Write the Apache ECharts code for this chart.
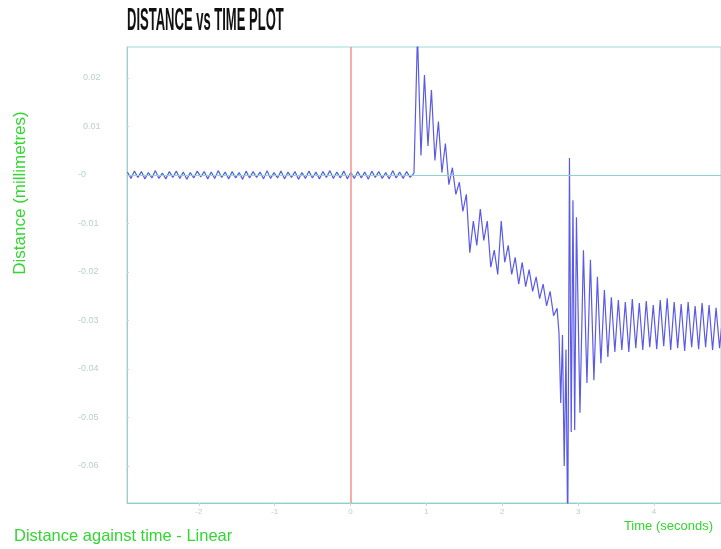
<!DOCTYPE html>
<html>
<head>
<meta charset="utf-8">
<script src="https://cdn.jsdelivr.net/npm/echarts@6/dist/echarts.min.js"></script>
<style>
html,body{margin:0;padding:0;background:#fff;}
#chart{width:721px;height:549px;}
</style>
</head>
<body>
<div id="chart"></div>
<script>
// ---- tick labels ----
const xTickValues = [-2, -1, 0, 1, 2, 3, 4];
const yTickValues = [0.02, 0.01, 0, -0.01, -0.02, -0.03, -0.04, -0.05, -0.06];
const yTickLabels = ['  0.02', '  0.01', '-0', '-0.01', '-0.02', '-0.03', '-0.04', '-0.05', '-0.06'];

// ---- distance samples (mm), each segment: start time (s), sample step (s), values ----
const flatStart = -2.941, flatStep = 0.046;
const flatValues = [
  0.0006,-0.0007,0.0008,-0.0005,0.0007,-0.0008,0.0005,-0.0006,0.0009,-0.0007,
  0.0004,-0.0008,0.0007,-0.0005,0.0008,-0.0007,0.0006,-0.0009,0.0005,-0.0006,
  0.0008,-0.0004,0.0007,-0.0008,0.0006,-0.0007,0.0009,-0.0005,0.0006,-0.0008,
  0.0007,-0.0006,0.0005,-0.0009,0.0008,-0.0006,0.0007,-0.0005,0.0006,-0.0008,
  0.0009,-0.0007,0.0005,-0.0006,0.0008,-0.0008,0.0006,-0.0005,0.0007,-0.0009,
  0.0005,-0.0007,0.0008,-0.0006,0.0006,-0.0008,0.0007,-0.0005,0.0009,-0.0007,
  0.0006,-0.0006,0.0008,-0.0008,0.0005,-0.0007,0.0007,-0.0006,0.0006,-0.0009,
  0.0008,-0.0005,0.0007,-0.0007,0.0005,-0.0008,0.0009,-0.0006,0.0006,-0.0007,
  0.0007,-0.0005
];

const decayStart = 0.8355, decayStep = 0.046;
const decayValues = [
  0.0004, 0.029, 0.004, 0.0206, 0.006, 0.0175, 0.003, 0.011, 0.0005, 0.0065,
  -0.002, 0.0015, -0.004, -0.0015, -0.0075, -0.004, -0.016, -0.0095, -0.0145, -0.007,
  -0.0135, -0.0095, -0.019, -0.0155, -0.0205, -0.0095, -0.018, -0.0145, -0.0205, -0.017,
  -0.0225, -0.018, -0.023, -0.0195, -0.024, -0.021, -0.0255, -0.0225, -0.027, -0.024,
  -0.029, -0.0275
];

const dipStart = 2.7467, dipStep = 0.023;
const dipValues = [
  -0.0326, -0.047, -0.033, -0.060, -0.036, -0.075, 0.0035, -0.053, -0.0052, -0.0526,
  -0.0087
];

const ringStart = 3.023, ringStep = 0.046;
const ringValues = [
  -0.049, -0.0155, -0.0429, -0.0175, -0.0423, -0.021, -0.0388, -0.0237, -0.0375, -0.0252,
  -0.0365, -0.0258, -0.0361, -0.0262, -0.0365, -0.0256, -0.0357, -0.0264, -0.0361, -0.026,
  -0.0355, -0.0268, -0.0359, -0.0258, -0.0353, -0.0254, -0.0361, -0.0262, -0.0357, -0.0266,
  -0.0363, -0.0262, -0.0355, -0.027, -0.0359, -0.0264, -0.0355, -0.0268, -0.0361, -0.0274,
  -0.0357, -0.0282
];

function seg(start, step, vals) {
  return vals.map((v, k) => [+(start + k * step).toFixed(4), v]);
}
const seriesData = [].concat(
  seg(flatStart, flatStep, flatValues),
  seg(decayStart, decayStep, decayValues),
  seg(dipStart, dipStep, dipValues),
  seg(ringStart, ringStep, ringValues)
);

const green = '#33d633';
const teal = '#9fd8d8';
const faint = '#b7d2c8';

const chart = echarts.init(document.getElementById('chart'), null, {renderer: 'canvas'});
chart.setOption({
  animation: false,
  backgroundColor: '#ffffff',
  grid: {
    left: 127, top: 47, right: -1, bottom: 46,
    show: true, borderColor: teal, borderWidth: 1, backgroundColor: 'transparent'
  },
  xAxis: {
    type: 'value',
    min: -2.947, max: 4.882,
    axisLine: {show: true, onZero: false, lineStyle: {color: '#8fcfcf', width: 1}},
    axisTick: {show: true, length: 3, customValues: xTickValues, lineStyle: {color: '#c8d8d4'}},
    axisLabel: {show: true, customValues: xTickValues, fontSize: 8, color: faint, margin: 5,
                fontFamily: 'Liberation Sans'},
    splitLine: {show: false}
  },
  yAxis: {
    type: 'value',
    min: -0.06763, max: 0.02639,
    axisLine: {show: true, onZero: false, lineStyle: {color: '#a8cccc', width: 1}},
    axisTick: {show: true, inside: true, length: 2, customValues: yTickValues, lineStyle: {color: '#c8d8d4'}},
    axisLabel: {
      show: true, customValues: yTickValues, fontSize: 9, color: faint, margin: 49, align: 'left',
      fontFamily: 'Liberation Sans',
      formatter: function (v) {
        let best = 0, bd = Infinity;
        yTickValues.forEach((t, i) => { const d = Math.abs(t - v); if (d < bd) { bd = d; best = i; } });
        return yTickLabels[best];
      }
    },
    splitLine: {show: false}
  },
  graphic: [
    {
      type: 'text', x: 127, y: 6, scaleX: 0.42, scaleY: 1,
      style: {text: 'DISTANCE vs TIME PLOT', x: 0, y: 0, fill: '#111',
              font: 'bold 31px "Liberation Sans", Arial, sans-serif',
              textAlign: 'left', textVerticalAlign: 'top'}
    },
    {
      type: 'text', x: 14, y: 536,
      style: {text: 'Distance against time - Linear', x: 0, y: 0, fill: green,
              font: '16.5px "Liberation Sans", Arial, sans-serif',
              textAlign: 'left', textVerticalAlign: 'middle'}
    },
    {
      type: 'text', x: 713, y: 526,
      style: {text: 'Time (seconds)', x: 0, y: 0, fill: green,
              font: '13px "Liberation Sans", Arial, sans-serif',
              textAlign: 'right', textVerticalAlign: 'middle'}
    },
    {
      type: 'text', x: 20, y: 193, rotation: Math.PI / 2,
      style: {text: 'Distance (millimetres)', x: 0, y: 0, fill: green,
              font: '17px "Liberation Sans", Arial, sans-serif',
              textAlign: 'center', textVerticalAlign: 'middle'}
    }
  ],
  series: [
    {
      type: 'line',
      data: [],
      z: 1,
      markLine: {
        silent: true,
        symbol: 'none',
        label: {show: false},
        animation: false,
        lineStyle: {color: '#8ed3d3', width: 1, type: 'solid', opacity: 1},
        data: [{yAxis: 0}]
      }
    },
    {
      type: 'line',
      data: [],
      z: 1,
      markLine: {
        silent: true,
        symbol: 'none',
        label: {show: false},
        animation: false,
        lineStyle: {color: '#f09090', width: 1.5, type: 'solid', opacity: 1},
        data: [{xAxis: 0}]
      }
    },
    {
      type: 'line',
      data: seriesData,
      showSymbol: false,
      symbol: 'none',
      sampling: null,
      clip: true,
      lineStyle: {color: '#5a5ae8', width: 1.2},
      z: 3
    }
  ]
});
</script>
</body>
</html>
